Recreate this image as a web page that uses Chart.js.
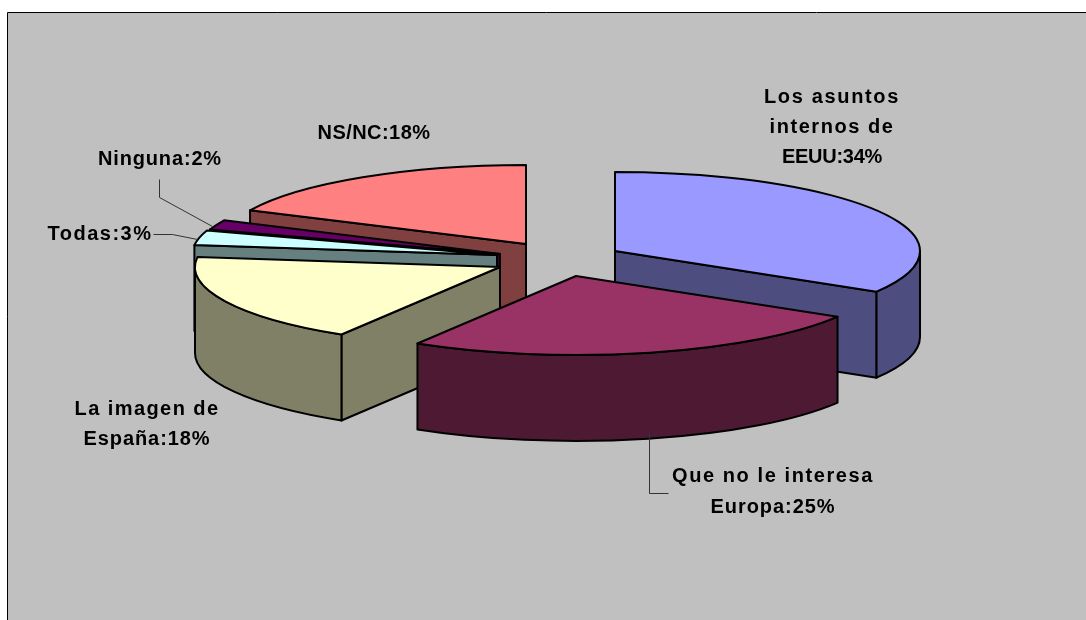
<!DOCTYPE html>
<html>
<head>
<meta charset="utf-8">
<style>
    body { margin: 0; background: #fff; }
    canvas { display: block; }
</style>
<script src="https://cdn.jsdelivr.net/npm/chart.js@4"></script>
</head>
<body>
<canvas id="grafico" width="1086" height="620"></canvas>
<script>
// categorias, una linea por fila de la etiqueta
const categorias = [
    ["Los asuntos", "internos de", "EEUU"],
    ["Que no le interesa", "Europa"],
    ["La imagen de", "España"],
    ["Todas"],
    ["Ninguna"],
    ["NS/NC"]
];
// la etiqueta los muestra redondeados
const valores = [33.6, 25.1, 18.3, 3, 2, 18];

const coloresTapa = ["#9999FF", "#993366", "#FFFFCC", "#CCFFFF", "#660066", "#FF8080"];
const coloresPared = ["#4D4D80", "#4D1933", "#808066", "#668080", "#330033", "#804040"];

// desplazamiento de cada porcion respecto al centro de la tarta
const explosion = [[72, -7], [33, 18], [-43, 9], [-46, -3], [-43, -4], [-17, -14]];
const centroY = 258;
const aplastado = 0.259;
const altura = 86;
const radio = 305;

// centro de cada fila de texto y ancho de cada fila
const posEtiquetas = [
    [832, 97], [773, 476], [147, 409], [100, 234], [160, 159], [374, 133]
];
const saltoLinea = [30, 31, 30, 0, 0, 0];
const anchoFilas = [[136, 125, 100], [202, 125], [145, 127], [105], [124], [113]];
const guias = [
    [[649, 432], [649, 493], [668, 493]],
    [[153, 234], [172, 234], [197, 239]],
    [[159, 179], [159, 197], [212, 226]]
];

// de atras hacia delante
const ordenDibujo = [5, 4, 3, 2, 0, 1];

function pintarCara(ctx, color) {
    ctx.fillStyle = color;
    ctx.fill();
    ctx.stroke();
}

const tarta3d = {
    id: "tarta3d",
    beforeDraw(chart) {
        const ctx = chart.ctx;
        ctx.fillStyle = "#C0C0C0";
        ctx.fillRect(7, 13, 1079, 607);
        ctx.strokeStyle = "#000";
        ctx.lineWidth = 1;
        ctx.beginPath();
        ctx.moveTo(7.5, 620);
        ctx.lineTo(7.5, 12.5);
        ctx.lineTo(1086, 12.5);
        ctx.stroke();
    },
    beforeDatasetDraw(chart) {
        const ctx = chart.ctx;
        const arcos = chart.getDatasetMeta(0).data;

        ordenDibujo.forEach(i => {
            const arco = arcos[i];
            const a0 = arco.startAngle;
            const a1 = arco.endAngle;
            const r = arco.outerRadius;
            const ox = arco.x + explosion[i][0];
            const oy = centroY + explosion[i][1];
            const punto = a => [ox + Math.cos(a) * r, oy + Math.sin(a) * r * aplastado];

            ctx.save();
            ctx.lineWidth = 2;
            ctx.lineJoin = "round";
            ctx.strokeStyle = "#000";

            // caras del corte que miran al frente
            [[a0, Math.cos(a0) < 0], [a1, Math.cos(a1) > 0]].forEach(([a, visible]) => {
                if (!visible) return;
                const [px, py] = punto(a);
                ctx.beginPath();
                ctx.moveTo(ox, oy);
                ctx.lineTo(px, py);
                ctx.lineTo(px, py + altura);
                ctx.lineTo(ox, oy + altura);
                ctx.closePath();
                pintarCara(ctx, coloresPared[i]);
            });

            // pared exterior, solo la mitad delantera
            const vueltas = [[0, Math.PI], [2 * Math.PI, 3 * Math.PI]];
            vueltas.forEach(([ini, fin]) => {
                const d0 = Math.max(a0, ini);
                const d1 = Math.min(a1, fin);
                if (d1 <= d0) return;
                ctx.beginPath();
                ctx.ellipse(ox, oy, r, r * aplastado, 0, d0, d1);
                ctx.ellipse(ox, oy + altura, r, r * aplastado, 0, d1, d0, true);
                ctx.closePath();
                pintarCara(ctx, coloresPared[i]);
            });

            // la tapa la pinta el propio arco, aplastado
            ctx.save();
            ctx.translate(ox, oy);
            ctx.scale(1, aplastado);
            ctx.translate(-arco.x, -arco.y);
            arco.draw(ctx);
            ctx.restore();

            ctx.beginPath();
            ctx.moveTo(ox, oy);
            ctx.ellipse(ox, oy, r, r * aplastado, 0, a0, a1);
            ctx.closePath();
            ctx.stroke();
            ctx.restore();
        });
        return false;
    },
    afterDraw(chart) {
        const ctx = chart.ctx;
        ctx.save();
        ctx.strokeStyle = "#333";
        ctx.lineWidth = 1;
        guias.forEach(g => {
            ctx.beginPath();
            g.forEach(([x, y], n) => n ? ctx.lineTo(x + 0.5, y + 0.5) : ctx.moveTo(x + 0.5, y + 0.5));
            ctx.stroke();
        });

        ctx.fillStyle = "#000";
        ctx.font = "bold 20px 'Liberation Sans'";
        ctx.textAlign = "center";
        ctx.textBaseline = "middle";
        categorias.forEach((lineas, i) => {
            const filas = lineas.slice();
            filas[filas.length - 1] += ":" + Math.round(valores[i]) + "%";
            filas.forEach((t, n) => {
                // espaciado para que la fila mida lo mismo que en el original
                ctx.letterSpacing = "0px";
                const sobra = anchoFilas[i][n] - ctx.measureText(t).width;
                ctx.letterSpacing = (sobra / t.length).toFixed(2) + "px";
                ctx.fillText(t, posEtiquetas[i][0], posEtiquetas[i][1] + n * saltoLinea[i]);
            });
        });
        ctx.restore();
    }
};

new Chart(document.getElementById("grafico"), {
    type: "pie",
    data: {
        labels: categorias.map(c => c.join(" ")),
        datasets: [{
            data: valores,
            backgroundColor: coloresTapa,
            borderWidth: 0,
            radius: radio
        }]
    },
    options: {
        responsive: false,
        animation: false,
        plugins: {
            legend: { display: false },
            tooltip: { enabled: false }
        }
    },
    plugins: [tarta3d]
});
</script>
</body>
</html>
